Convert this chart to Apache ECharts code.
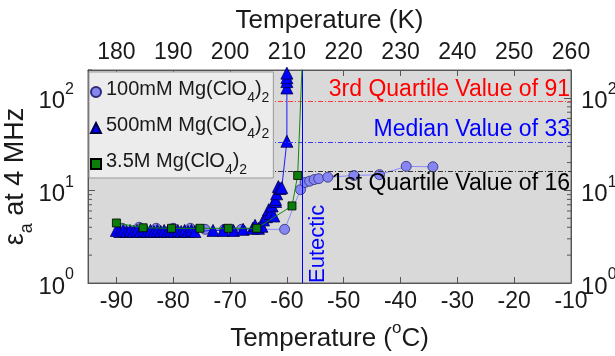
<!DOCTYPE html>
<html><head><meta charset="utf-8">
<script src="https://cdn.jsdelivr.net/npm/echarts@6/dist/echarts.min.js"></script>
<style>html,body{margin:0;padding:0;background:#fff}#c{width:615px;height:356px}</style>
</head><body><div id="c"></div>
<script>
// ---- data ----
const xTicksC = [-90,-80,-70,-60,-50,-40,-30,-20,-10];
const xTicksK = [180,190,200,210,220,230,240,250,260];
const yTicks = [1,10,100];
const yMinor = [2,3,4,5,6,7,8,9,20,30,40,50,60,70,80,90,200];

const seriesNames = ['100mM Mg(ClO4)2','500mM Mg(ClO4)2','3.5M Mg(ClO4)2'];

const t100 = [-89,-86,-83,-80,-77,-74.4,-71,-68,-65,-60.4,-57.6,-56.8,-56.0,-55.2,-54.4,-52.8,-48.2,-43.7,-39.0,-34.3];
const v100 = [3.9,4.0,3.9,3.9,3.9,3.8,3.8,3.8,3.8,3.8,10.2,12.2,12.6,13.1,13.4,13.9,14.5,14.8,18.2,18.0];

const t500 = [-90.0,-89.4,-88.8,-88.2,-87.6,-87.0,-86.4,-85.8,-85.2,-84.6,-84.0,-83.4,-82.8,-82.2,-81.6,-81.0,-80.4,-79.8,-79.2,-78.6,-78.0,-77.4,-76.8,-76.2,-73.0,-71.2,-69.4,-67.7,-66.0,-65.6,-65.0,-64.4,-64.1,-63.6,-63.2,-62.9,-62.6,-62.3,-62.0,-62.0,-61.8,-61.5,-61.2,-60.9,-60.0,-60.0,-60.0,-60.0,-60.0];
const v500 = [3.7,3.6,3.7,3.6,3.7,3.6,3.7,3.6,3.7,3.6,3.7,3.6,3.7,3.6,3.7,3.6,3.7,3.6,3.7,3.6,3.7,3.6,3.7,3.6,3.7,3.7,3.7,3.8,3.9,4.2,3.9,4.1,4.8,5.2,6.2,5.6,6.8,5.3,7.6,8.0,9.2,11.0,10.5,10.7,34,128,150,165,185];

const t35 = [-90.0,-85.3,-80.3,-75.3,-70.3,-65.3,-59.1,-58.1,-56.9];
const v35 = [4.45,3.95,3.9,3.9,3.9,3.9,6.8,14.5,1000];

const quartileNames = ['1st Quartile','Median','3rd Quartile'];
const quartileVals = [16,33,91];
const eutecticC = -57.35;

// ---- chart ----
const FF = '"Liberation Sans", Arial, Helvetica, sans-serif';
const TC = '#1a1a1a';
const zip = (a,b) => a.map((x,i)=>[x,b[i]]);
const chart = echarts.init(document.getElementById('c'), null, {renderer:'canvas'});

const supRich = {
  b:{fontSize:24, fontFamily:FF, color:TC, lineHeight:32, verticalAlign:'bottom'},
  s:{fontSize:16, fontFamily:FF, color:TC, lineHeight:32, verticalAlign:'top'}
};
const yLab = v => '{b|10}{s|' + Math.round(Math.log10(v)) + '}';
const legendFmt = name => {
  const m = name.match(/^(.*)\(ClO4\)2$/);
  return '{t|' + m[1] + '(ClO}{u|4}{t|)}{u|2}';
};
const qColors = ['#000000','#0000ff','#ff0000'];
const qLine = ['#333333','#3a3aff','#ff3a3a'];

const markData = quartileVals.map((v,i)=>({
  yAxis:v,
  lineStyle:{color:qLine[i], type:[5,2,1,2], width:1},
  label:{show:true, formatter:quartileNames[i]+' Value of '+v,
    position: i===0 ? 'insideEndBottom' : 'insideEndTop',
    color:qColors[i], fontSize:23, fontFamily:FF, distance:[1,1]}
}));
markData.push({
  xAxis:eutecticC,
  lineStyle:{color:'#0000ff', type:'solid', width:1},
  label:{show:true, formatter:'Eutectic', position:'insideStartBottom', color:'#0000ff', fontSize:22, fontFamily:FF, distance:[0,5]}
});

const axisCommon = {
  axisLine:{show:true, lineStyle:{color:'#555', width:1}},
  splitLine:{show:false}
};

chart.setOption({
  animation:false,
  backgroundColor:'#ffffff',
  grid:{left:88, right:44, top:70, bottom:73, outerBoundsMode:'none', containLabel:false, show:true, backgroundColor:'#d9d9d9', borderColor:'#666', borderWidth:1},
  legend:{
    z:20, orient:'vertical', left:89, top:72, itemGap:10, padding:[7,4,1,1],
    backgroundColor:'#ececec', borderColor:'#999', borderWidth:1, borderRadius:0,
    itemWidth:10, itemHeight:10,
    data:[
      {name:seriesNames[0], icon:'circle'},
      {name:seriesNames[1], icon:'triangle'},
      {name:seriesNames[2], icon:'rect'}
    ],
    formatter:legendFmt,
    textStyle:{rich:{
      t:{fontSize:20, fontFamily:FF, color:TC, lineHeight:26, verticalAlign:'top'},
      u:{fontSize:14, fontFamily:FF, color:TC, lineHeight:26, verticalAlign:'bottom'}
    }}
  },
  xAxis:[
    Object.assign({type:'value', position:'bottom', min:-95, max:-10,
      name:'{t|Temperature (}{s|o}{t|C)}', nameLocation:'middle', nameGap:37,
      nameTextStyle:{rich:{
        t:{fontSize:26, fontFamily:FF, color:TC, lineHeight:32, verticalAlign:'bottom'},
        s:{fontSize:17, fontFamily:FF, color:TC, lineHeight:32, verticalAlign:'top'}}},
      axisTick:{inside:true, length:6, customValues:xTicksC, lineStyle:{color:'#555'}},
      axisLabel:{customValues:xTicksC, fontSize:23, fontFamily:FF, color:TC, margin:7}
    }, axisCommon),
    Object.assign({type:'value', position:'top', min:175, max:260,
      name:'Temperature (K)', nameLocation:'middle', nameGap:36,
      nameTextStyle:{fontSize:26, fontFamily:FF, color:TC},
      axisTick:{inside:true, length:6, customValues:xTicksK, lineStyle:{color:'#555'}},
      axisLabel:{customValues:xTicksK, fontSize:23, fontFamily:FF, color:TC, margin:6}
    }, axisCommon)
  ],
  yAxis:[
    Object.assign({type:'log', logBase:10, min:1, max:200, position:'left',
      name:'{e|ε}{a|a}{e| at 4 MHz}', nameLocation:'middle', nameGap:52, nameMoveOverlap:false,
      nameTextStyle:{rich:{
        e:{fontSize:27, fontFamily:FF, color:TC, lineHeight:34, verticalAlign:'top'},
        a:{fontSize:18, fontFamily:FF, color:TC, lineHeight:34, verticalAlign:'bottom'}}},
      axisTick:{inside:true, length:7, customValues:yTicks, lineStyle:{color:'#555'}},
      axisLabel:{customValues:yTicks, formatter:yLab, rich:supRich, margin:14}
    }, axisCommon),
    Object.assign({type:'log', logBase:10, min:1, max:200, position:'right',
      axisTick:{inside:true, length:7, customValues:yTicks, lineStyle:{color:'#555'}},
      axisLabel:{customValues:yTicks, formatter:yLab, rich:supRich, margin:10}
    }, axisCommon)
  ],
  series:[
    {
      type:'custom', name:'minor', xAxisIndex:0, yAxisIndex:0, silent:true, z:1,
      data:yMinor.map(v=>[-95,v]),
      renderItem:(params, api)=>{
        const p = api.coord([api.value(0), api.value(1)]);
        const cs = params.coordSys;
        return {type:'group', children:[
          {type:'line', shape:{x1:cs.x, y1:p[1], x2:cs.x+4, y2:p[1]}, style:{stroke:'#555', lineWidth:1}},
          {type:'line', shape:{x1:cs.x+cs.width-4, y1:p[1], x2:cs.x+cs.width, y2:p[1]}, style:{stroke:'#555', lineWidth:1}}
        ]};
      }
    },
    {
      type:'line', name:seriesNames[0], data:zip(t100,v100), clip:true, z:3,
      symbol:'circle', symbolSize:10,
      itemStyle:{color:'#8686f2', borderColor:'#2a2a7a', borderWidth:0.8},
      lineStyle:{color:'#8a8aff', width:1},
      markLine:{silent:true, symbol:['none','none'], animation:false, data:markData}
    },
    {
      type:'line', name:seriesNames[1], data:zip(t500,v500), clip:true, z:4,
      symbol:'triangle', symbolSize:12,
      itemStyle:{color:'#0000ff', borderColor:'#000040', borderWidth:0.8},
      lineStyle:{color:'#1a1aff', width:1}
    },
    {
      type:'line', name:seriesNames[2], data:zip(t35,v35), clip:true, z:5,
      symbol:'rect', symbolSize:8,
      itemStyle:{color:'#0b7d0b', borderColor:'#000000', borderWidth:0.8},
      lineStyle:{color:'#118811', width:1}
    }
  ]
});
</script></body></html>
